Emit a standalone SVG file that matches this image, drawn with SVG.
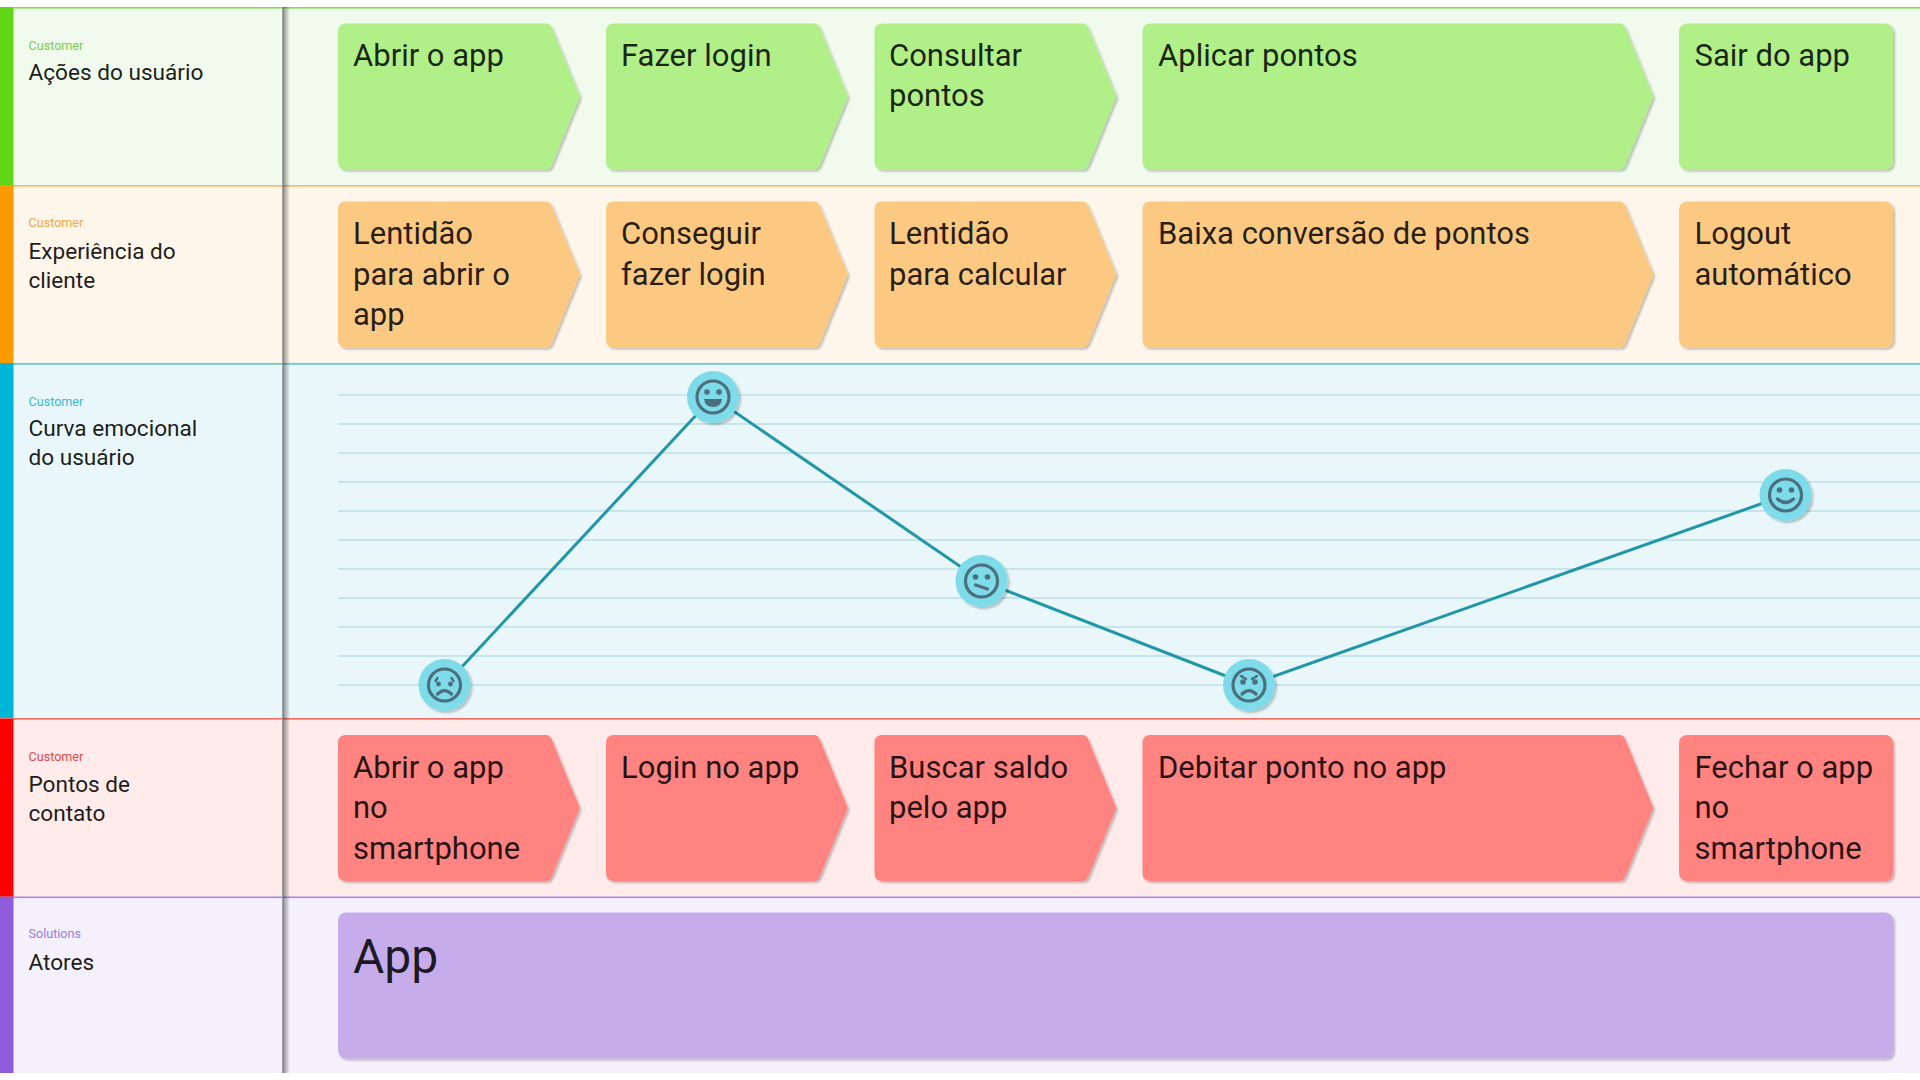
<svg xmlns="http://www.w3.org/2000/svg" xmlns:xlink="http://www.w3.org/1999/xlink" width="1920" height="1080" viewBox="0 0 1920 1080">
<style>
text{font-family:Roboto,"Liberation Sans",sans-serif}
.t{font-size:31px;fill:#000;fill-opacity:.86}
.l{font-size:22.600px;fill:#000;fill-opacity:.9}
.c{font-size:12.600px}
.g{fill:#b1ef88}.o{fill:#fcc983}.r{fill:#ff8380}
.grid line{stroke:#c6e4eb;stroke-width:2}
.face{fill:none;stroke:#4b6f7d;stroke-width:3.200;stroke-linecap:round}
.thin{stroke-width:2.400}
.eye{fill:#4b6f7d}
.disc{fill:#7edbe9;filter:url(#sh)}
.box{filter:url(#sh)}
</style>
<defs>
<filter id="sh" x="-10%" y="-10%" width="125%" height="125%"><feDropShadow dx="2" dy="2" stdDeviation="0.800" flood-color="#000" flood-opacity=".24"/></filter>
<linearGradient id="div" x1="0" x2="1" y1="0" y2="0"><stop offset="0" stop-color="#000" stop-opacity=".42"/><stop offset="1" stop-color="#000" stop-opacity="0"/></linearGradient>
<path id="ch" d="M8,0H208Q212,0 214,5L241,71Q242,73 241,75L214,141Q212,146 208,146H8Q0,146 0,138V8Q0,0 8,0Z"/>
<path id="chw" d="M8,0H477Q481,0 483,5L510,71Q511,73 510,75L483,141Q481,146 477,146H8Q0,146 0,138V8Q0,0 8,0Z"/>
<rect id="re" width="214" height="146" rx="8"/>
</defs>
<rect width="1920" height="1080" fill="#fff"/>

<g id="lane-acoes">
<rect y="7" width="1920" height="178" fill="#f1fbed"/>
<rect y="7" width="1920" height="1.600" fill="#85dc51"/>
<rect y="7" width="13.500" height="178" fill="#62d717"/>
<text class="c" x="28.500" y="50" fill="#7ecb4f">Customer</text>
<text class="l" x="28.500" y="80">Ações do usuário</text>
</g>
<g id="lane-experiencia">
<rect y="185" width="1920" height="178" fill="#fef6ea"/>
<rect y="185" width="1920" height="1.600" fill="#f6bb66"/>
<rect y="185" width="13.500" height="178" fill="#fa9a05"/>
<text class="c" x="28.500" y="227" fill="#eea84d">Customer</text>
<text class="l" x="28.500" y="258.500">Experiência do</text>
<text class="l" x="28.500" y="287.500">cliente</text>
</g>
<g id="lane-curva">
<rect y="363" width="1920" height="356" fill="#e9f7fa"/>
<rect y="363" width="1920" height="1.600" fill="#4fcbe2"/>
<rect y="363" width="13.500" height="356" fill="#00b5d5"/>
<text class="c" x="28.500" y="405.500" fill="#3fb9cc">Customer</text>
<text class="l" x="28.500" y="436">Curva emocional</text>
<text class="l" x="28.500" y="465">do usuário</text>
</g>
<g id="lane-pontos">
<rect y="719" width="1920" height="178" fill="#ffebea"/>
<rect y="718" width="1920" height="1.600" fill="#f76a66"/>
<rect y="719" width="13.500" height="178" fill="#ff0000"/>
<text class="c" x="28.500" y="761" fill="#e04a4a">Customer</text>
<text class="l" x="28.500" y="792">Pontos de</text>
<text class="l" x="28.500" y="821">contato</text>
</g>
<g id="lane-atores">
<rect y="897" width="1920" height="176" fill="#f4f1fc"/>
<rect y="896.500" width="1920" height="1.600" fill="#a885e4"/>
<rect y="897" width="13.500" height="176" fill="#8e5cdb"/>
<text class="c" x="28.500" y="938" fill="#9c7bdc">Solutions</text>
<text class="l" x="28.500" y="969.500">Atores</text>
</g>
<g id="divider">
<rect x="282" y="7" width="1.200" height="1066" fill="#a0a0a0"/>
<rect x="283" y="7" width="7" height="1066" fill="url(#div)"/>
</g>

<g id="a1"><use href="#ch" x="338" y="23.500" class="g box"/><text class="t" x="353" y="66">Abrir o app</text></g>
<g id="a2"><use href="#ch" x="606" y="23.500" class="g box"/><text class="t" x="621" y="66">Fazer login</text></g>
<g id="a3"><use href="#ch" x="874.500" y="23.500" class="g box"/><text class="t" x="889" y="66">Consultar</text><text class="t" x="889" y="106">pontos</text></g>
<g id="a4"><use href="#chw" x="1142.500" y="23.500" class="g box"/><text class="t" x="1158" y="66">Aplicar pontos</text></g>
<g id="a5"><use href="#re" x="1679" y="23.500" class="g box"/><text class="t" x="1694.500" y="66">Sair do app</text></g>

<g id="e1"><use href="#ch" x="338" y="201.500" class="o box"/><text class="t" x="353" y="244">Lentidão</text><text class="t" x="353" y="284.500">para abrir o</text><text class="t" x="353" y="325">app</text></g>
<g id="e2"><use href="#ch" x="606" y="201.500" class="o box"/><text class="t" x="621" y="244">Conseguir</text><text class="t" x="621" y="284.500">fazer login</text></g>
<g id="e3"><use href="#ch" x="874.500" y="201.500" class="o box"/><text class="t" x="889" y="244">Lentidão</text><text class="t" x="889" y="284.500">para calcular</text></g>
<g id="e4"><use href="#chw" x="1142.500" y="201.500" class="o box"/><text class="t" x="1158" y="244">Baixa conversão de pontos</text></g>
<g id="e5"><use href="#re" x="1679" y="201.500" class="o box"/><text class="t" x="1694.500" y="244">Logout</text><text class="t" x="1694.500" y="284.500">automático</text></g>

<g class="grid" id="grid">
<line x1="338" x2="1920" y1="395" y2="395"/><line x1="338" x2="1920" y1="424" y2="424"/><line x1="338" x2="1920" y1="453" y2="453"/><line x1="338" x2="1920" y1="482" y2="482"/><line x1="338" x2="1920" y1="511" y2="511"/><line x1="338" x2="1920" y1="540" y2="540"/><line x1="338" x2="1920" y1="569" y2="569"/><line x1="338" x2="1920" y1="598" y2="598"/><line x1="338" x2="1920" y1="627" y2="627"/><line x1="338" x2="1920" y1="656" y2="656"/><line x1="338" x2="1920" y1="685" y2="685"/>
</g>
<g id="connectors" fill="none" stroke="#1f97a8" stroke-width="3">
<line x1="445" y1="685" x2="713" y2="397"/>
<line x1="713" y1="397" x2="981.500" y2="581"/>
<line x1="981.500" y1="581" x2="1249" y2="685"/>
<line x1="1249" y1="685" x2="1786" y2="495"/>
</g>
<g id="mood1" transform="translate(444.500 685)"><circle class="disc" r="26"/><circle class="face" r="16"/><circle class="eye" cx="-6" cy="-1" r="2.400"/><circle class="eye" cx="6" cy="-1" r="2.400"/><path class="face" d="M-7,9Q0,2 7,9"/><path class="face thin" d="M-9,-4L-7,-7M9,-4L7,-7"/></g>
<g id="mood2" transform="translate(713 397)"><circle class="disc" r="26"/><circle class="face" r="16"/><circle class="eye" cx="-6" cy="-5" r="2.800"/><circle class="eye" cx="6" cy="-5" r="2.800"/><path class="eye" d="M-9,2H9Q8,10 0,10Q-8,10 -9,2Z"/></g>
<g id="mood3" transform="translate(981.500 581)"><circle class="disc" r="26"/><circle class="face" r="16"/><circle class="eye" cx="-6" cy="-4" r="2.800"/><circle class="eye" cx="6" cy="-4" r="2.800"/><path class="face" d="M-6,4L6,8"/></g>
<g id="mood4" transform="translate(1249 685)"><circle class="disc" r="26"/><circle class="face" r="16"/><circle class="eye" cx="-6" cy="-3" r="2.800"/><circle class="eye" cx="6" cy="-3" r="2.800"/><path class="face" d="M-7,9Q0,2 7,9"/><path class="face thin" d="M-8,-9L-3,-6M8,-9L3,-6"/></g>
<g id="mood5" transform="translate(1785.500 495)"><circle class="disc" r="26"/><circle class="face" r="16"/><circle class="eye" cx="-6" cy="-5" r="2.800"/><circle class="eye" cx="6" cy="-5" r="2.800"/><path class="face" d="M-8,4Q0,11 8,4"/></g>

<g id="p1"><use href="#ch" x="338" y="735" class="r box"/><text class="t" x="353" y="778">Abrir o app</text><text class="t" x="353" y="818">no</text><text class="t" x="353" y="859">smartphone</text></g>
<g id="p2"><use href="#ch" x="606" y="735" class="r box"/><text class="t" x="621" y="778">Login no app</text></g>
<g id="p3"><use href="#ch" x="874.500" y="735" class="r box"/><text class="t" x="889" y="778">Buscar saldo</text><text class="t" x="889" y="818">pelo app</text></g>
<g id="p4"><use href="#chw" x="1142.500" y="735" class="r box"/><text class="t" x="1158" y="778">Debitar ponto no app</text></g>
<g id="p5"><use href="#re" x="1679" y="735" class="r box"/><text class="t" x="1694.500" y="778">Fechar o app</text><text class="t" x="1694.500" y="818">no</text><text class="t" x="1694.500" y="859">smartphone</text></g>

<g id="app"><rect class="box" x="338" y="912.500" width="1555" height="146" rx="8" fill="#c6aceb"/><text x="353" y="973" font-size="48" fill="#000" fill-opacity=".86">App</text></g>
</svg>
